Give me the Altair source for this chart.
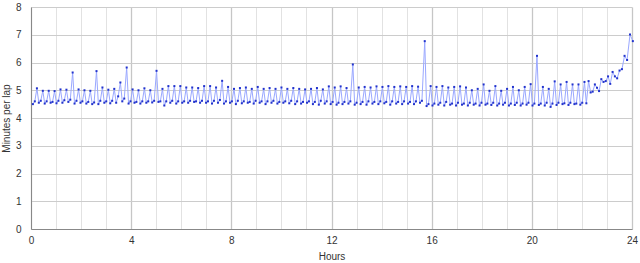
import altair as alt
import pandas as pd

# Lap times in minutes (roughly 3-lap cycles)
laps_part1 = [
    4.50, 4.60, 5.07,  4.55, 4.62, 4.98,  4.52, 4.60, 4.98,  4.55, 4.58, 4.97,
    4.53, 4.62, 5.03,  4.55, 4.64, 5.02,  4.58, 4.66, 5.64,  4.52, 4.62, 5.03,
    4.55, 4.60, 5.00,  4.52, 4.58, 4.98,  4.50, 4.56, 5.69,  4.50, 4.62, 5.10,
    4.55, 4.60, 5.02,  4.53, 4.62, 5.05,  4.55, 4.78, 5.28,  4.60, 4.70, 5.82,
    4.52, 4.60, 5.03,  4.55, 4.58, 5.00,  4.52, 4.60, 5.07,  4.55, 4.60, 5.00,
    4.56, 4.62, 5.70,  4.58, 4.60, 5.05,  4.45, 4.60, 5.15,  4.55, 4.62, 5.15,
    4.52, 4.60, 5.15,  4.55, 4.60, 5.10,  4.55, 4.62, 5.10,  4.58, 4.60, 5.08,
    4.55, 4.62, 5.15,  4.55, 4.60, 5.15,  4.52, 4.62, 5.10,  4.55, 4.65, 5.34,
]
laps_part2 = [
    4.52, 4.60, 5.12,  4.55, 4.60, 5.05,  4.50, 4.62, 5.08,  4.53, 4.60, 5.10,
    4.55, 4.58, 5.05,  4.52, 4.62, 5.12,  4.55, 4.60, 5.05,  4.50, 4.60, 5.08,
    4.55, 4.62, 5.05,  4.52, 4.58, 5.10,  4.55, 4.60, 5.05,  4.53, 4.62, 5.08,
    4.50, 4.60, 5.05,  4.52, 4.58, 5.03,  4.55, 4.60, 5.05,  4.50, 4.58, 5.08,
    4.48, 4.62, 5.03,  4.52, 4.60, 5.14,  4.50, 4.58, 5.10,  4.48, 4.55, 5.14,
    4.50, 4.58, 5.08,  4.52, 4.60, 5.93,  4.48, 4.55, 5.10,  4.50, 4.58, 5.12,
    4.48, 4.60, 5.10,  4.52, 4.58, 5.14,  4.50, 4.60, 5.12,  4.53, 4.58, 5.15,
    4.48, 4.60, 5.12,  4.52, 4.58, 5.14,  4.50, 4.60, 5.12,  4.52, 4.58, 5.15,
    4.50, 4.60, 5.13,  4.55, 4.62, 6.77,
]
laps_part3 = [
    4.43, 4.50, 5.15,  4.45, 4.52, 5.12,  4.48, 4.55, 5.15,  4.45, 4.58, 5.10,
    4.48, 4.52, 5.12,  4.45, 4.55, 5.14,  4.48, 4.52, 5.10,  4.45, 4.55, 5.00,
    4.48, 4.52, 5.05,  4.45, 4.55, 5.21,  4.48, 4.52, 4.98,  4.47, 4.55, 5.15,
    4.45, 4.52, 4.98,  4.48, 4.55, 5.05,  4.45, 4.52, 5.12,  4.47, 4.55, 5.00,
    4.45, 4.52, 5.12,  4.48, 4.55, 5.22,  4.45, 4.52, 6.24,  4.47, 4.52, 5.12,
    4.45, 4.55, 5.05,  4.40, 4.52, 5.32,  4.47, 4.55, 5.21,  4.50, 4.53, 5.30,
    4.47, 4.55, 5.21,  4.50, 4.52, 5.21,  4.48, 4.55, 5.30,
]
laps_final = [
    4.53, 5.33, 4.92, 4.95, 5.21, 5.09, 4.97, 5.40, 5.30, 5.33, 5.50,
    5.23, 5.66, 5.50, 5.43, 5.71, 5.76, 6.24, 6.09, 7.01, 6.77,
]

lap_minutes = laps_part1 + laps_part2 + laps_part3 + laps_final
lap_number = list(range(1, len(lap_minutes) + 1))

x_ticks = list(range(0, 25))
y_ticks = [0, 0.25, 0.5, 0.75, 1, 1.25, 1.5, 1.75, 2, 2.25, 2.5, 2.75, 3, 3.25,
           3.5, 3.75, 4, 4.25, 4.5, 4.75, 5, 5.25, 5.5, 5.75, 6, 6.25, 6.5,
           6.75, 7, 7.25, 7.5, 7.75, 8]

df = pd.DataFrame({"lap": lap_number, "minutes": lap_minutes})

FONT = "Liberation Sans"

base = alt.Chart(df).transform_window(
    elapsed="sum(minutes)",
    sort=[alt.SortField("lap")],
    frame=[None, 0],
).transform_calculate(hours="datum.elapsed / 60")

x_enc = alt.X(
    "hours:Q",
    scale=alt.Scale(domain=[0, 24], nice=False, zero=True),
    axis=alt.Axis(
        values=x_ticks,
        format="d",
        labelExpr="datum.value % 4 === 0 ? datum.label : ''",
        labelOverlap=False,
        labelFlush=False,
        title="Hours",
        ticks=False,
        labelPadding=6,
        titlePadding=6,
        gridColor=alt.condition("datum.value % 4 === 0", alt.value("#c6c6c6"), alt.value("#e2e2e2")),
        gridWidth=alt.condition("datum.value % 4 === 0", alt.value(1.3), alt.value(1)),
    ),
)
y_enc = alt.Y(
    "minutes:Q",
    scale=alt.Scale(domain=[0, 8], nice=False),
    axis=alt.Axis(
        values=y_ticks,
        format="d",
        labelExpr="datum.value % 1 === 0 ? datum.label : ''",
        labelOverlap=False,
        labelFlush=False,
        title="Minutes per lap",
        ticks=False,
        labelPadding=10,
        titlePadding=4,
        gridColor=alt.condition("datum.value % 1 === 0", alt.value("#cccccc"), alt.value("#e8e8e8")),
    ),
)

line = base.mark_line(color="#9aa8ff", strokeWidth=1).encode(x=x_enc, y=y_enc, order="lap:Q")
pts = base.mark_point(color="#2233cc", filled=True, shape="square", size=4, opacity=1).encode(
    x=x_enc, y=y_enc
)

chart = (
    alt.layer(line, pts)
    .properties(
        width=601,
        height=222,
        autosize=alt.AutoSizeParams(type="none"),
        padding={"left": 31, "top": 7, "right": 8, "bottom": 34},
    )
    .configure_view(stroke=None)
    .configure_axis(
        labelFont=FONT,
        titleFont=FONT,
        labelFontSize=10,
        titleFontSize=10,
        titleFontWeight="normal",
        labelColor="#333333",
        titleColor="#333333",
        domainColor="#888888",
        domainWidth=1,
    )
)

chart.save("out.html", embed_options={"renderer": "svg", "actions": False})
